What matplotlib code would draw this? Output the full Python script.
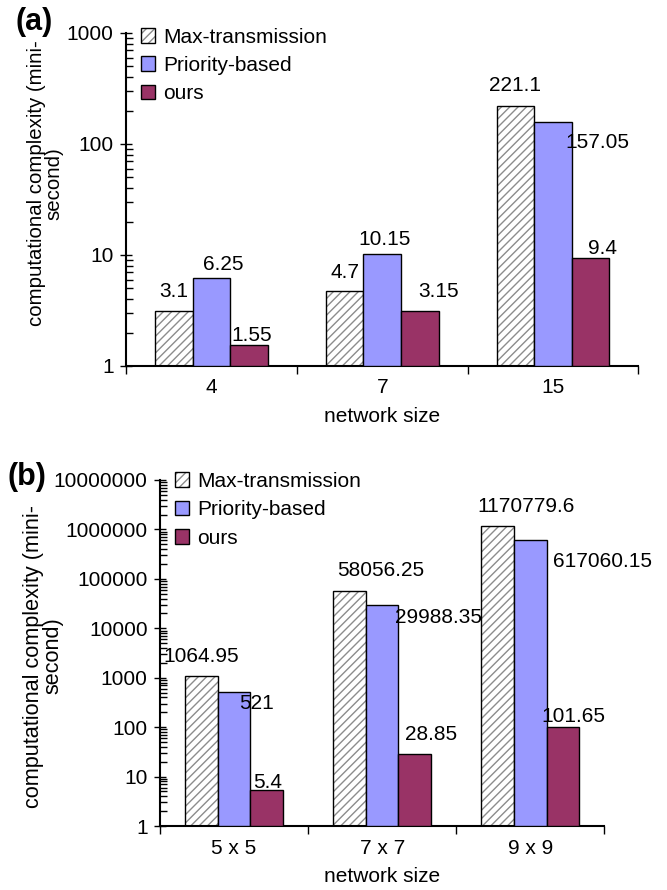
import matplotlib.pyplot as plt
import numpy as np
from matplotlib.patches import Patch
from matplotlib.ticker import FixedLocator, FuncFormatter, LogLocator, NullFormatter

plt.rcParams['font.family'] = ['Liberation Sans', 'DejaVu Sans']

series = ['Max-transmission', 'Priority-based', 'ours']

# panel (a)
sizes_a = ['4', '7', '15']
maxtx_a = [3.1, 4.7, 221.1]
prio_a = [6.25, 10.15, 157.05]
ours_a = [1.55, 3.15, 9.4]
labels_a = [['3.1', '4.7', '221.1'], ['6.25', '10.15', '157.05'], ['1.55', '3.15', '9.4']]

# panel (b)
sizes_b = ['5 x 5', '7 x 7', '9 x 9']
maxtx_b = [1064.95, 58056.25, 1170779.6]
prio_b = [521, 29988.35, 617060.15]
ours_b = [5.4, 28.85, 101.65]
labels_b = [['1064.95', '58056.25', '1170779.6'], ['521', '29988.35', '617060.15'],
            ['5.4', '28.85', '101.65']]

# label offsets in pixels (dx, dy) per series per group, Excel-like placement
offs_a = [[(0, 20), (0, 19), (0, 20)],
          [(12, 13), (2, 15), (44, -20)],
          [(3, 9), (19, 19), (12, 9)]]
offs_b = [[(0, 20), (31, 20), (28, 20)],
          [(22, -12), (56, -13), (72, -22)],
          [(1, 7), (16, 19), (11, 10)]]

YLAB1 = 'computational complexity (mini-'
YLAB = YLAB1 + '\nsecond)'

BLUE = '#9999FF'
RED = '#993366'
W = 0.22
FS = 15

fig = plt.figure(figsize=(6.67, 8.9), dpi=100)
ax_a = fig.add_axes([0.189, 0.5888, 0.768, 0.3742])
ax_b = fig.add_axes([0.240, 0.0719, 0.666, 0.3888])

# size the y label so its first line is as long as in the source picture
rend = fig.canvas.get_renderer()
tmp = fig.text(0, 0, YLAB1, fontsize=10)
w10 = tmp.get_window_extent(rend).width
tmp.remove()


def draw(ax, cats, vals, labels, offs, ymax, lab_xy, lab_len, leg_y):
    x = np.arange(len(cats))
    pos = [x - W, x, x + W]
    h = [np.array(v) - 1 for v in vals]  # bars start at 1 on the log axis
    # hatched series: grey hatch, black outline on top
    ax.bar(pos[0], h[0], W, bottom=1, color='white', edgecolor='#8c8c8c',
           hatch='////', linewidth=0, zorder=2)
    ax.bar(pos[0], h[0], W, bottom=1, fill=False, edgecolor='black', linewidth=1, zorder=3)
    ax.bar(pos[1], h[1], W, bottom=1, color=BLUE, edgecolor='black', linewidth=1, zorder=3)
    ax.bar(pos[2], h[2], W, bottom=1, color=RED, edgecolor='black', linewidth=1, zorder=3)
    for s in range(3):
        for g in range(len(cats)):
            ax.annotate(labels[s][g], (pos[s][g], vals[s][g]), xytext=offs[s][g],
                        textcoords='offset pixels', ha='center', va='center',
                        fontsize=FS, zorder=4)
    ax.set_yscale('log')
    ax.set_ylim(1, ymax)
    ax.set_xlim(-0.5, len(cats) - 0.5)
    ax.yaxis.set_major_locator(LogLocator(base=10))
    ax.yaxis.set_major_formatter(FuncFormatter(lambda v, p: f'{int(round(v))}'))
    ax.yaxis.set_minor_locator(LogLocator(base=10, subs=np.arange(2, 10)))
    ax.yaxis.set_minor_formatter(NullFormatter())
    ax.tick_params(axis='y', which='major', direction='inout', length=8, width=1,
                   labelsize=FS, pad=5)
    ax.tick_params(axis='y', which='minor', direction='in', length=5, width=1)
    ax.set_xticks(x)
    ax.set_xticklabels(cats)
    ax.tick_params(axis='x', which='major', length=0, labelsize=FS, pad=9)
    ax.xaxis.set_minor_locator(FixedLocator(np.arange(len(cats) + 1) - 0.5))
    ax.tick_params(axis='x', which='minor', direction='out', length=6, width=1)
    for sp in ['top', 'right']:
        ax.spines[sp].set_visible(False)
    ax.spines['left'].set_linewidth(1.5)
    ax.spines['bottom'].set_linewidth(1.5)
    ax.set_xlabel('network size', fontsize=FS, labelpad=7)
    ax.set_ylabel(YLAB, fontsize=10 * lab_len / w10,
                  ha='center', multialignment='center', linespacing=0.9)
    ax.yaxis.set_label_coords(*lab_xy)
    hatch_h = (Patch(facecolor='white', edgecolor='#8c8c8c', hatch='////', linewidth=0),
               Patch(fill=False, edgecolor='black', linewidth=1))
    handles = [hatch_h, Patch(facecolor=BLUE, edgecolor='black'),
               Patch(facecolor=RED, edgecolor='black')]
    ax.legend(handles, series, loc='upper left', bbox_to_anchor=(0.0, leg_y),
              frameon=False, fontsize=FS, handlelength=0.7, handleheight=0.7,
              handletextpad=0.4, labelspacing=0.45, borderaxespad=0.3)


draw(ax_a, sizes_a, [maxtx_a, prio_a, ours_a], labels_a, offs_a, 1000,
     (-0.123, 0.548), 287, 1.06)
draw(ax_b, sizes_b, [maxtx_b, prio_b, ours_b], labels_b, offs_b, 1e7,
     (-0.218, 0.491), 305, 1.065)

fig.text(0.051, 0.975, '(a)', fontsize=22, fontweight='bold', va='center', ha='center')
fig.text(0.041, 0.464, '(b)', fontsize=22, fontweight='bold', va='center', ha='center')

fig.savefig('out.png', dpi=100)
